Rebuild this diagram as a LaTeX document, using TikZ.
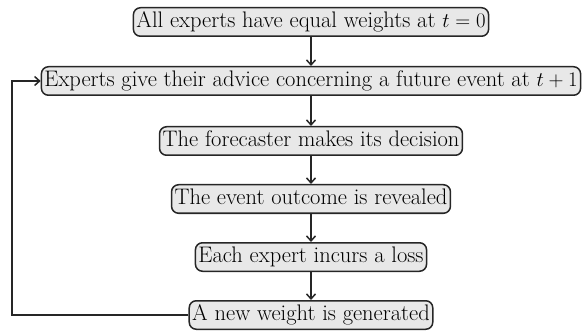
\documentclass[tikz,border=0pt]{standalone}
\usetikzlibrary{arrows.meta}
\begin{document}
\begin{tikzpicture}[x=1pt,y=-1pt,
  stepbox/.style={draw=black!85, fill=black!9, rounded corners=7pt, line width=1.5pt,
    inner xsep=3pt, inner ysep=3.5pt, text height=16pt, text depth=5.5pt,
    font=\fontsize{22.5}{25}\selectfont},
  flow/.style={draw=black!85, line width=1.5pt, -{Straight Barb[length=5pt,width=9pt]}}]
\useasboundingbox (0,0) rectangle (586,331);
\node[stepbox] (s1) at (311,22) {All experts have equal weights at $t=0$};
\node[stepbox] (s2) at (311,81) {Experts give their advice concerning a future event at $t+1$};
\node[stepbox] (s3) at (311,141) {The forecaster makes its decision};
\node[stepbox] (s4) at (311,199) {The event outcome is revealed};
\node[stepbox] (s5) at (311,257) {Each expert incurs a loss};
\node[stepbox] (s6) at (311,315) {A new weight is generated};
\draw[flow] (s1) -- (s2);
\draw[flow] (s2) -- (s3);
\draw[flow] (s3) -- (s4);
\draw[flow] (s4) -- (s5);
\draw[flow] (s5) -- (s6);
\coordinate (loop) at (12,200);
\draw[flow] (s6.west) -- (s6.west -| loop) |- (s2.west);
\end{tikzpicture}
\end{document}
